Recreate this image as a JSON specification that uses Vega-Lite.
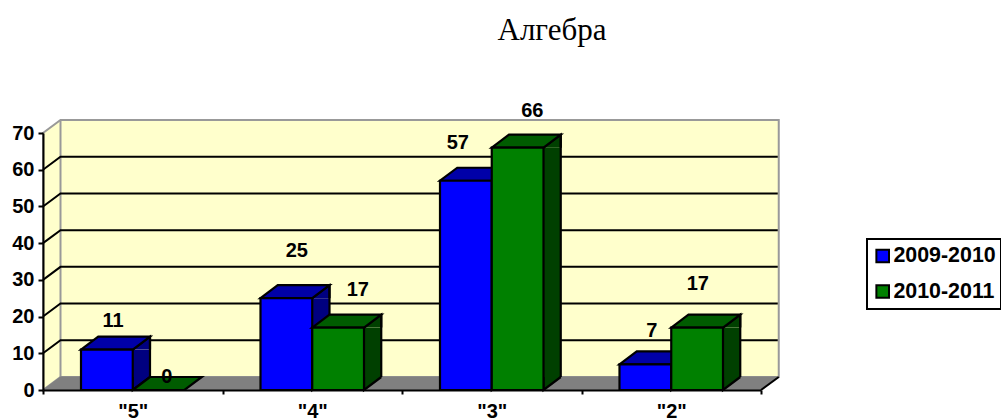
{"$schema":"https://vega.github.io/schema/vega-lite/v6.json","width":718,"height":257,"autosize":{"type":"none"},"padding":{"left":43,"top":133,"right":240,"bottom":30},"background":"white",
"title":{"text":"Алгебра","font":"Liberation Serif","fontSize":31,"fontWeight":"normal","color":"#000000","anchor":"middle","dx":150,"offset":54},
"datasets":{"bars":[
{"cat":"\"5\"","series":"2009-2010","value":11},{"cat":"\"4\"","series":"2009-2010","value":25},{"cat":"\"3\"","series":"2009-2010","value":57},{"cat":"\"2\"","series":"2009-2010","value":7},
{"cat":"\"5\"","series":"2010-2011","value":0},{"cat":"\"4\"","series":"2010-2011","value":17},{"cat":"\"3\"","series":"2010-2011","value":66},{"cat":"\"2\"","series":"2010-2011","value":17}],
"ticks":[{"cat":"\"5\"","tick":0},{"cat":"\"5\"","tick":10},{"cat":"\"5\"","tick":20},{"cat":"\"5\"","tick":30},{"cat":"\"5\"","tick":40},{"cat":"\"5\"","tick":50},{"cat":"\"5\"","tick":60}]},
"data":{"name":"bars"},
"encoding":{
"x":{"field":"cat","type":"nominal","sort":["\"5\"","\"4\"","\"3\"","\"2\""],"scale":{"paddingInner":0,"paddingOuter":0},
"axis":{"title":null,"labelAngle":0,"labelFont":"Liberation Sans","labelFontWeight":"bold","labelFontSize":20,"labelColor":"#000000","labelPadding":7,"tickBand":"extent","tickSize":4,"tickWidth":2,"tickColor":"#000000","domainColor":"#000000","domainWidth":2,"zindex":1,"grid":false}},
"y":{"field":"value","type":"quantitative","stack":null,"scale":{"domain":[0,70],"nice":false},
"axis":{"title":null,"values":[0,10,20,30,40,50,60,70],"labelFont":"Liberation Sans","labelFontWeight":"bold","labelFontSize":20,"labelColor":"#000000","labelPadding":4,"tickSize":5,"tickWidth":2,"tickColor":"#000000","domainColor":"#000000","domainWidth":2,"zindex":1,"grid":false}}},
"layer":[
{"data":{"name":"ticks"},"transform":[{"filter":"datum.tick==0"}],"mark":{"type":"point","filled":true,"opacity":1,"size":4,"fill":"#FFFFCC","stroke":"#999999","strokeWidth":2,"shape":"M-89.75 0L-72.25 -13L646 -13L646 -270L-72.25 -270L-89.75 -257Z"},"encoding":{"y":{"field":"tick","type":"quantitative"}}},
{"data":{"name":"ticks"},"transform":[{"filter":"datum.tick==0"}],"mark":{"type":"point","filled":true,"opacity":1,"size":4,"fill":"#999999","stroke":"#999999","strokeWidth":2,"shape":"M-72.25 -13L-72.25 -270"},"encoding":{"y":{"field":"tick","type":"quantitative"}}},
{"data":{"name":"ticks"},"transform":[{"filter":"datum.tick==0"}],"mark":{"type":"point","filled":true,"opacity":1,"size":4,"fill":"#808080","stroke":"#808080","strokeWidth":1,"shape":"M-89.75 0L-72.25 -13L646 -13L628.25 0Z"},"encoding":{"y":{"field":"tick","type":"quantitative"}}},
{"data":{"name":"ticks"},"transform":[{"filter":"datum.tick==0"}],"mark":{"type":"point","filled":false,"opacity":1,"size":4,"stroke":"#000000","strokeWidth":2,"shape":"M628.25 0L646 -13"},"encoding":{"y":{"field":"tick","type":"quantitative"}}},
{"data":{"name":"ticks"},"transform":[{"filter":"datum.tick>0"}],"mark":{"type":"point","filled":false,"opacity":1,"size":4,"stroke":"#000000","strokeWidth":2,"shape":"M-89.75 0L-72.25 -13L645 -13"},"encoding":{"y":{"field":"tick","type":"quantitative"}}},

{"transform":[{"filter":"datum.series=='2009-2010' && datum.value>0"}],"mark":{"type":"bar","width":17.25,"xOffset":8.625,"y2Offset":-13,"fill":"#000080"},"encoding":{"y2":{"datum":0}}},
{"transform":[{"filter":"datum.series=='2009-2010' && datum.value>0"}],"mark":{"type":"point","filled":true,"opacity":1,"size":4,"xOffset":0,"fill":"#000080","stroke":"#000000","strokeWidth":2.2,"shape":"M0 0L17.25 -13L17.25 0"}},
{"transform":[{"filter":"datum.series=='2009-2010' && datum.value>0"}],"mark":{"type":"point","filled":true,"opacity":1,"size":4,"xOffset":0,"fill":"#000080","stroke":"#000000","strokeWidth":2.2,"shape":"M0 -13L0 0L17.25 -13"},"encoding":{"y":{"datum":0}}},
{"transform":[{"filter":"datum.series=='2009-2010' && datum.value>0"}],"mark":{"type":"rule","xOffset":17.25,"yOffset":-13,"y2Offset":-13,"stroke":"#000000","strokeWidth":2.2},"encoding":{"y2":{"datum":0}}},
{"transform":[{"filter":"datum.series=='2009-2010'"}],"mark":{"type":"point","filled":true,"opacity":1,"size":4,"xOffset":-51.75,"fill":"#0000A8","stroke":"#000000","strokeWidth":2.2,"shape":"M0 0L51.75 0L69 -13L17.25 -13Z"}},
{"transform":[{"filter":"datum.series=='2009-2010'"}],"mark":{"type":"bar","width":51.75,"xOffset":-25.875,"stroke":"#000000","strokeWidth":2.2},"encoding":{"color":{"field":"series","type":"nominal","scale":{"domain":["2009-2010","2010-2011"],"range":["#0000FF","#008000"]},"legend":{"title":null,"orient":"none","legendX":824,"legendY":106,"strokeColor":"#000000","fillColor":"#FFFFFF","padding":5,"symbolType":"square","symbolSize":160,"symbolStrokeColor":"#000000","symbolStrokeWidth":2,"labelFont":"Liberation Sans","labelFontWeight":"bold","labelFontSize":21.4,"labelColor":"#000000","labelOffset":0,"clipHeight":24,"rowPadding":11.5,"labelLimit":200}}}},

{"transform":[{"filter":"datum.series=='2010-2011' && datum.value>0"}],"mark":{"type":"bar","width":17.25,"xOffset":60.375,"y2Offset":-13,"fill":"#004000"},"encoding":{"y2":{"datum":0}}},
{"transform":[{"filter":"datum.series=='2010-2011' && datum.value>0"}],"mark":{"type":"point","filled":true,"opacity":1,"size":4,"xOffset":51.75,"fill":"#004000","stroke":"#000000","strokeWidth":2.2,"shape":"M0 0L17.25 -13L17.25 0"}},
{"transform":[{"filter":"datum.series=='2010-2011' && datum.value>0"}],"mark":{"type":"point","filled":true,"opacity":1,"size":4,"xOffset":51.75,"fill":"#004000","stroke":"#000000","strokeWidth":2.2,"shape":"M0 -13L0 0L17.25 -13"},"encoding":{"y":{"datum":0}}},
{"transform":[{"filter":"datum.series=='2010-2011' && datum.value>0"}],"mark":{"type":"rule","xOffset":69,"yOffset":-13,"y2Offset":-13,"stroke":"#000000","strokeWidth":2.2},"encoding":{"y2":{"datum":0}}},
{"transform":[{"filter":"datum.series=='2010-2011'"}],"mark":{"type":"point","filled":true,"opacity":1,"size":4,"xOffset":0,"fill":"#005C00","stroke":"#000000","strokeWidth":2.2,"shape":"M0 0L51.75 0L69 -13L17.25 -13Z"}},
{"transform":[{"filter":"datum.series=='2010-2011'"}],"mark":{"type":"bar","width":51.75,"xOffset":25.875,"stroke":"#000000","strokeWidth":2.2},"encoding":{"color":{"field":"series","type":"nominal"}}},

{"transform":[{"filter":"datum.value==11"}],"mark":{"type":"text","dx":-19.75,"dy":-28.9,"font":"Liberation Sans","fontWeight":"bold","fontSize":20,"fill":"#000000"},"encoding":{"text":{"field":"value"}}},
{"transform":[{"filter":"datum.value==0"}],"mark":{"type":"text","dx":34,"dy":-13.3,"font":"Liberation Sans","fontWeight":"bold","fontSize":20,"fill":"#000000"},"encoding":{"text":{"field":"value"}}},
{"transform":[{"filter":"datum.value==25"}],"mark":{"type":"text","dx":-15.5,"dy":-47.5,"font":"Liberation Sans","fontWeight":"bold","fontSize":20,"fill":"#000000"},"encoding":{"text":{"field":"value"}}},
{"transform":[{"filter":"datum.value==17 && datum.cat=='\"4\"'"}],"mark":{"type":"text","dx":45.5,"dy":-37.6,"font":"Liberation Sans","fontWeight":"bold","fontSize":20,"fill":"#000000"},"encoding":{"text":{"field":"value"}}},
{"transform":[{"filter":"datum.value==57"}],"mark":{"type":"text","dx":-34,"dy":-38.1,"font":"Liberation Sans","fontWeight":"bold","fontSize":20,"fill":"#000000"},"encoding":{"text":{"field":"value"}}},
{"transform":[{"filter":"datum.value==66"}],"mark":{"type":"text","dx":40.5,"dy":-37,"font":"Liberation Sans","fontWeight":"bold","fontSize":20,"fill":"#000000"},"encoding":{"text":{"field":"value"}}},
{"transform":[{"filter":"datum.value==7"}],"mark":{"type":"text","dx":-19.5,"dy":-33.6,"font":"Liberation Sans","fontWeight":"bold","fontSize":20,"fill":"#000000"},"encoding":{"text":{"field":"value"}}},
{"transform":[{"filter":"datum.value==17 && datum.cat=='\"2\"'"}],"mark":{"type":"text","dx":26.5,"dy":-43.3,"font":"Liberation Sans","fontWeight":"bold","fontSize":20,"fill":"#000000"},"encoding":{"text":{"field":"value"}}}
],
"config":{"view":{"stroke":null},"legend":{"strokeWidth":2}}}
